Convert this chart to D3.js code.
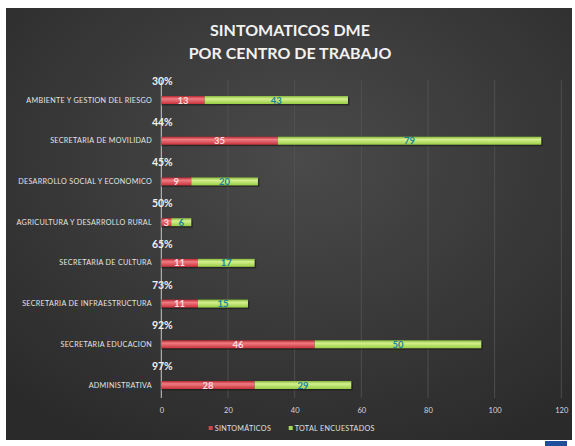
<!DOCTYPE html>
<html>
<head>
<meta charset="utf-8">
<script src="https://cdn.jsdelivr.net/npm/d3@7"></script>
<style>
  html, body { margin: 0; padding: 0; background: #fff; }
  svg { display: block; }
  text { font-family: Lato, "Open Sans", "DejaVu Sans", sans-serif; }
</style>
</head>
<body>
<script>
const categories = [
  "AMBIENTE Y GESTION DEL RIESGO",
  "SECRETARIA DE MOVILIDAD",
  "DESARROLLO SOCIAL Y ECONOMICO",
  "AGRICULTURA Y DESARROLLO RURAL",
  "SECRETARIA DE CULTURA",
  "SECRETARIA DE INFRAESTRUCTURA",
  "SECRETARIA EDUCACION",
  "ADMINISTRATIVA"
];
const sintomaticos = [13, 35, 9, 3, 11, 11, 46, 28];
const totalEncuestados = [43, 79, 20, 6, 17, 15, 50, 29];
const pctLabels = ["30%", "44%", "45%", "50%", "65%", "73%", "92%", "97%"];
const xTicks = [0, 20, 40, 60, 80, 100, 120];
const seriesNames = ["SINTOMÁTICOS", "TOTAL ENCUESTADOS"];
const titleLines = ["SINTOMATICOS DME", "POR CENTRO DE TRABAJO"];

const W = 575, H = 446;
const svg = d3.select("body").append("svg").attr("width", W).attr("height", H);
const defs = svg.append("defs");

const bg = defs.append("radialGradient").attr("id", "bg")
  .attr("cx", "52%").attr("cy", "35%").attr("r", "75%");
bg.append("stop").attr("offset", "0%").attr("stop-color", "#4a4a4a");
bg.append("stop").attr("offset", "100%").attr("stop-color", "#2a2a2a");

const gRed = defs.append("linearGradient").attr("id", "gRed").attr("x1", 0).attr("x2", 0).attr("y1", 0).attr("y2", 1);
gRed.append("stop").attr("offset", "0%").attr("stop-color", "#b8262f");
gRed.append("stop").attr("offset", "35%").attr("stop-color", "#f07c82");
gRed.append("stop").attr("offset", "100%").attr("stop-color", "#c8323b");
const gGreen = defs.append("linearGradient").attr("id", "gGreen").attr("x1", 0).attr("x2", 0).attr("y1", 0).attr("y2", 1);
gGreen.append("stop").attr("offset", "0%").attr("stop-color", "#86b83a");
gGreen.append("stop").attr("offset", "35%").attr("stop-color", "#d4f08e");
gGreen.append("stop").attr("offset", "100%").attr("stop-color", "#98cc44");

svg.append("rect").attr("x", 6).attr("y", 8).attr("width", 566).attr("height", 432).attr("fill", "url(#bg)");

// title
svg.append("g").selectAll("text").data(titleLines).join("text")
  .attr("x", 290).attr("y", (d, i) => 36 + i * 23)
  .attr("text-anchor", "middle")
  .attr("font-size", 16).attr("font-weight", "bold").attr("fill", "#f2f2f2")
  .text(d => d);

const x = d3.scaleLinear().domain([0, 120]).range([161.3, 561.3]);
const y = d3.scalePoint().domain(categories).range([100, 385]);
const barH = 8;

// gridlines
svg.append("g").selectAll("line").data(xTicks.slice(1)).join("line")
  .attr("x1", d => x(d)).attr("x2", d => x(d))
  .attr("y1", 80).attr("y2", 398)
  .attr("stroke", "#555").attr("stroke-width", 0.8);

// axis tick labels via d3 axis
const xAxis = svg.append("g").attr("transform", "translate(0,398)")
  .call(d3.axisBottom(x).tickValues(xTicks).tickSize(0).tickPadding(10));
xAxis.select(".domain").remove();
xAxis.selectAll("text").attr("fill", "#d8d8d8").attr("font-size", 7.5)
  .style("font-family", "Lato, sans-serif");

// vertical axis line
svg.append("line").attr("x1", x(0)).attr("x2", x(0)).attr("y1", 80).attr("y2", 398)
  .attr("stroke", "#c8c8c8").attr("stroke-width", 1);

const data = categories.map((c, i) => ({ c, s: sintomaticos[i], t: totalEncuestados[i], p: pctLabels[i] }));

// shadows
svg.append("g").selectAll("rect").data(data).join("rect")
  .attr("x", d => x(0)).attr("y", d => y(d.c) - barH / 2 + 1.5)
  .attr("width", d => x(d.s + d.t) - x(0) + 1.5).attr("height", barH)
  .attr("fill", "#151515").attr("opacity", 0.55);

svg.append("g").selectAll("rect").data(data).join("rect")
  .attr("x", d => x(0)).attr("y", d => y(d.c) - barH / 2)
  .attr("width", d => x(d.s) - x(0)).attr("height", barH)
  .attr("fill", "url(#gRed)");
svg.append("g").selectAll("rect").data(data).join("rect")
  .attr("x", d => x(d.s)).attr("y", d => y(d.c) - barH / 2)
  .attr("width", d => x(d.s + d.t) - x(d.s)).attr("height", barH)
  .attr("fill", "url(#gGreen)");

// value labels
svg.append("g").selectAll("text").data(data).join("text")
  .attr("x", d => (x(0) + x(d.s)) / 2).attr("y", d => y(d.c) + 3.5)
  .attr("text-anchor", "middle").attr("font-size", 9.5).attr("font-weight", "bold")
  .attr("fill", "#f8dcde").text(d => d.s);
svg.append("g").selectAll("text").data(data).join("text")
  .attr("x", d => (x(d.s) + x(d.s + d.t)) / 2).attr("y", d => y(d.c) + 3.5)
  .attr("text-anchor", "middle").attr("font-size", 9.5).attr("font-weight", "bold")
  .attr("fill", "#17839f").text(d => d.t);

// percent labels
svg.append("g").selectAll("text").data(data).join("text")
  .attr("x", d => x(0) + 1).attr("y", d => y(d.c) - 15)
  .attr("text-anchor", "middle").attr("font-size", 10.5).attr("font-weight", "bold")
  .attr("fill", "#f0f0f0").text(d => d.p);

// category labels
svg.append("g").selectAll("text").data(data).join("text")
  .attr("x", 152).attr("y", d => y(d.c) + 2.5)
  .attr("text-anchor", "end").attr("font-size", 7.2).attr("letter-spacing", 0.3)
  .attr("fill", "#e4e4e4").text(d => d.c);

// legend
const legColors = ["#d9434c", "#a6d94c"];
const legX = [210.7, 290.7];
const leg = svg.append("g").selectAll("g").data(seriesNames).join("g")
  .attr("transform", (d, i) => `translate(${legX[i]},428)`);
leg.append("rect").attr("x", -2).attr("y", -2).attr("width", 4).attr("height", 4)
  .attr("fill", (d, i) => legColors[i]);
leg.append("text").attr("x", 4).attr("y", 2.6).attr("font-size", 7.2).attr("letter-spacing", 0.3)
  .attr("fill", "#e0e0e0").text(d => d);

// small logo mark at bottom right
svg.append("rect").attr("x", 545).attr("y", 441).attr("width", 22).attr("height", 5).attr("fill", "#1f4e9c");
</script>
</body>
</html>
